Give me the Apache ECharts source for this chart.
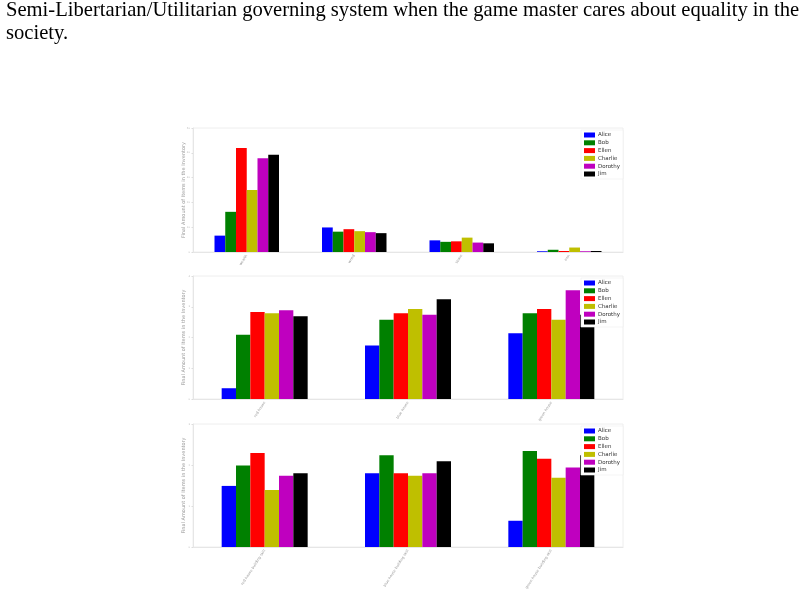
<!DOCTYPE html>
<html><head><meta charset="utf-8">
<script src="https://cdn.jsdelivr.net/npm/echarts@6/dist/echarts.min.js"></script>
<style>html,body{margin:0;padding:0;background:#fff}#c{width:804px;height:598px}</style>
</head><body><div id="c"></div>
<script>
const players = ['Alice','Bob','Ellen','Charlie','Dorothy','Jim'];
const colors = ['#0000ff','#008000','#ff0000','#bfbf00','#bf00bf','#000000'];

const cats1 = ['wealth','wood','stone','iron'];
const cats2 = ['red house','blue house','green house'];
const cats3 = ['red house building skill','blue house building skill','green house building skill'];

// values per player, per category
const p1 = {
  Alice:   [6.6, 9.9, 4.7, 0.3],
  Bob:     [16.2, 8.2, 4.1, 0.9],
  Ellen:   [41.9, 9.2, 4.3, 0.4],
  Charlie: [25.0, 8.4, 5.8, 1.8],
  Dorothy: [37.8, 8.0, 3.8, 0.3],
  Jim:     [39.2, 7.6, 3.5, 0.4]
};
const p2 = {
  Alice:   [0.35, 1.74, 2.14],
  Bob:     [2.09, 2.58, 2.79],
  Ellen:   [2.83, 2.79, 2.93],
  Charlie: [2.79, 2.93, 2.58],
  Dorothy: [2.89, 2.74, 3.54],
  Jim:     [2.69, 3.24, 2.74]
};
const p3 = {
  Alice:   [1.49, 1.80, 0.64],
  Bob:     [1.99, 2.24, 2.34],
  Ellen:   [2.29, 1.80, 2.15],
  Charlie: [1.39, 1.74, 1.69],
  Dorothy: [1.74, 1.80, 1.94],
  Jim:     [1.80, 2.09, 2.24]
};
const yMax = [50, 4, 3];
const yInt = [10, 1, 1];

const panels = [{cats: cats1, data: p1}, {cats: cats2, data: p2}, {cats: cats3, data: p3}];
const grids = [
  {left: 193, width: 430, top: 128, height: 124},
  {left: 193, width: 430, top: 276, height: 123},
  {left: 193, width: 430, top: 424, height: 123}
];
const legendTops = [130, 278, 426];

const option = {
  animation: false,
  textStyle: {fontFamily: 'DejaVu Sans'},
  graphic: [
    {type: 'text', left: 6, top: 0, style: {text: 'Semi-Libertarian/Utilitarian governing system when the game master cares about equality in the', font: '20.6px "Liberation Serif"', fill: '#000'}},
    {type: 'text', left: 6, top: 23, style: {text: 'society.', font: '20.6px "Liberation Serif"', fill: '#000'}}
  ],
  grid: grids.map(g => Object.assign({show: true, borderColor: '#eeeeee', borderWidth: 1, backgroundColor: '#fff'}, g)),
  xAxis: panels.map((p, i) => ({
    type: 'category', gridIndex: i, data: p.cats,
    axisLine: {lineStyle: {color: '#e6e6e6'}}, axisTick: {show: false},
    axisLabel: {rotate: 57, fontSize: 3.6, color: '#999', margin: 3}
  })),
  yAxis: panels.map((p, i) => ({
    type: 'value', gridIndex: i, min: 0, max: yMax[i], interval: yInt[i],
    name: 'Final Amount of Items in the Inventory', nameLocation: 'middle', nameGap: 7,
    nameMoveOverlap: false,
    nameTextStyle: {fontSize: 5, color: '#999'},
    axisLine: {show: true, lineStyle: {color: '#e6e6e6'}},
    axisTick: {show: true, length: 1.5, lineStyle: {color: '#ddd'}},
    axisLabel: {fontSize: 2.5, color: '#bbb', margin: 3},
    splitLine: {show: false}
  })),
  legend: legendTops.map(t => ({
    data: players, right: 181, top: t, orient: 'vertical',
    itemWidth: 11, itemHeight: 5, itemGap: 1.8, icon: 'rect',
    textStyle: {fontSize: 5.5, color: '#333', padding: [0, 0, 0, -2]},
    padding: [2, 3, 2, 3], borderColor: '#eee', borderWidth: 0.6, backgroundColor: '#fff'
  })),
  series: []
};
panels.forEach((p, i) => {
  players.forEach((name, k) => {
    option.series.push({
      type: 'bar', name: name, xAxisIndex: i, yAxisIndex: i,
      data: p.data[name], barGap: '0%', barCategoryGap: '40%',
      itemStyle: {color: colors[k]}
    });
  });
});
const chart = echarts.init(document.getElementById('c'), null, {renderer: 'canvas'});
chart.setOption(option);
</script></body></html>
